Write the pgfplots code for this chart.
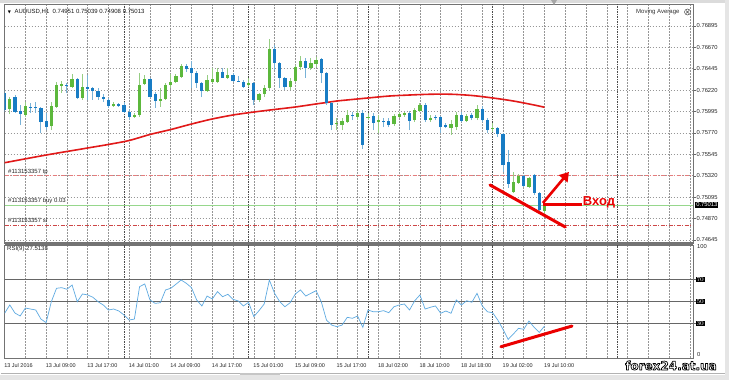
\documentclass[border=0pt]{standalone}
\usepackage{pgfplots}
\usepackage{pgfplotstable}
\pgfplotsset{compat=1.18}
\usetikzlibrary{arrows.meta}
\usepackage{fontspec}
\setmainfont{Liberation Sans}
\newfontfamily\dejavu{DejaVu Sans}
\newfontfamily\dejavub{DejaVu Sans Bold}

\definecolor{bullbody}{RGB}{92,184,60}
\definecolor{bullwick}{RGB}{150,205,130}
\definecolor{bearbody}{RGB}{24,124,196}
\definecolor{bearwick}{RGB}{120,178,215}
\definecolor{mared}{RGB}{225,25,25}
\definecolor{annred}{RGB}{235,0,0}
\definecolor{rsiblue}{RGB}{95,170,225}
\definecolor{gridgray}{RGB}{150,150,150}
\definecolor{tpred}{RGB}{228,125,125}
\definecolor{slred}{RGB}{205,70,70}
\definecolor{buygreen}{RGB}{150,215,140}

\pgfplotstableread{
i o h l c
0 0.76190 0.76222 0.75990 0.76012
2 0.76148 0.76169 0.75980 0.75990
3 0.76001 0.76064 0.75853 0.75969
5 0.76043 0.76085 0.75980 0.76033
6 0.76043 0.76096 0.75980 0.76033
7 0.76033 0.76043 0.75770 0.75885
8 0.75896 0.75980 0.75801 0.75832
12 0.76274 0.76295 0.76190 0.76264
14 0.76337 0.76348 0.76127 0.76138
16 0.76253 0.76379 0.76117 0.76232
17 0.76243 0.76253 0.76117 0.76211
18 0.76211 0.76243 0.76117 0.76148
19 0.76148 0.76180 0.76096 0.76127
20 0.76117 0.76138 0.76033 0.76053
22 0.76075 0.76085 0.76043 0.76053
23 0.76064 0.76096 0.75980 0.75990
24 0.75990 0.76022 0.75906 0.75938
28 0.76337 0.76348 0.76138 0.76148
29 0.76180 0.76201 0.76033 0.76106
35 0.76474 0.76495 0.76411 0.76443
36 0.76453 0.76527 0.76243 0.76400
37 0.76400 0.76421 0.76243 0.76295
38 0.76295 0.76306 0.76148 0.76211
42 0.76411 0.76453 0.76348 0.76348
44 0.76379 0.76400 0.76306 0.76316
45 0.76316 0.76369 0.76306 0.76306
46 0.76306 0.76327 0.76243 0.76253
48 0.76295 0.76306 0.76064 0.76117
52 0.76653 0.76695 0.76432 0.76506
53 0.76506 0.76516 0.76243 0.76348
54 0.76348 0.76358 0.76222 0.76253
58 0.76527 0.76558 0.76348 0.76453
61 0.76548 0.76558 0.76295 0.76400
62 0.76400 0.76411 0.76064 0.76085
63 0.76085 0.76096 0.75801 0.75853
67 0.75959 0.75990 0.75906 0.75948
69 0.75980 0.76012 0.75601 0.75644
71 0.75948 0.75980 0.75801 0.75875
73 0.75896 0.75927 0.75832 0.75885
74 0.75896 0.75927 0.75832 0.75853
78 0.75980 0.76001 0.75801 0.75896
81 0.76064 0.76085 0.75885 0.75906
83 0.75938 0.75959 0.75906 0.75927
84 0.75938 0.75948 0.75770 0.75832
85 0.75853 0.75875 0.75822 0.75832
88 0.75959 0.75990 0.75885 0.75896
90 0.75959 0.75980 0.75906 0.75927
92 0.76022 0.76053 0.75885 0.75906
93 0.75906 0.75927 0.75770 0.75801
95 0.75822 0.75832 0.75727 0.75759
96 0.75759 0.75770 0.75360 0.75433
97 0.75465 0.75591 0.75192 0.75234
100 0.75318 0.75328 0.75202 0.75213
102 0.75328 0.75339 0.75118 0.75139
103 0.75139 0.75149 0.74929 0.74960
}\beardata

\pgfplotstableread{
i o h l c
1 0.76022 0.76148 0.75969 0.76127
4 0.75959 0.76096 0.75938 0.76053
9 0.75843 0.76096 0.75801 0.76053
10 0.76043 0.76306 0.76033 0.76274
11 0.76264 0.76316 0.76190 0.76285
13 0.76253 0.76390 0.76243 0.76337
15 0.76138 0.76390 0.76117 0.76253
21 0.76053 0.76096 0.76043 0.76075
25 0.75938 0.75980 0.75927 0.75959
26 0.75959 0.76400 0.75938 0.76274
27 0.76285 0.76379 0.76274 0.76337
30 0.76106 0.76243 0.76043 0.76127
31 0.76127 0.76295 0.76117 0.76274
32 0.76274 0.76390 0.76243 0.76306
33 0.76306 0.76390 0.76295 0.76369
34 0.76358 0.76495 0.76348 0.76474
39 0.76211 0.76379 0.76201 0.76327
40 0.76306 0.76453 0.76295 0.76337
41 0.76306 0.76453 0.76295 0.76411
43 0.76348 0.76453 0.76337 0.76379
47 0.76274 0.76348 0.76253 0.76295
49 0.76117 0.76190 0.76096 0.76180
50 0.76180 0.76274 0.76148 0.76243
51 0.76243 0.76758 0.76222 0.76653
55 0.76253 0.76348 0.76222 0.76316
56 0.76316 0.76484 0.76306 0.76464
57 0.76464 0.76579 0.76432 0.76527
59 0.76453 0.76558 0.76432 0.76506
60 0.76495 0.76569 0.76464 0.76537
64 0.75864 0.75927 0.75801 0.75875
65 0.75853 0.75927 0.75801 0.75896
66 0.75885 0.76012 0.75875 0.75959
68 0.75938 0.76012 0.75906 0.75980
70 0.75927 0.75980 0.75906 0.75938
72 0.75885 0.75959 0.75770 0.75906
75 0.75864 0.75969 0.75843 0.75948
76 0.75938 0.75990 0.75927 0.75969
77 0.75959 0.75990 0.75938 0.75980
79 0.75906 0.76033 0.75885 0.76012
80 0.76001 0.76085 0.75990 0.76064
82 0.75906 0.75959 0.75885 0.75927
86 0.75822 0.75906 0.75749 0.75864
87 0.75832 0.75990 0.75801 0.75959
89 0.75896 0.75969 0.75885 0.75948
91 0.75927 0.76064 0.75906 0.76022
94 0.75812 0.75875 0.75780 0.75822
98 0.75149 0.75360 0.75139 0.75255
99 0.75244 0.75339 0.75234 0.75318
101 0.75202 0.75308 0.75192 0.75297
104 0.74951 0.75039 0.74908 0.75013
}\bulldata

\pgfplotstableread{
i ma
0 0.75457
8 0.75538
16 0.75612
20 0.75649
24 0.75691
28 0.75754
32 0.75806
36 0.75864
40 0.75917
44 0.75959
48 0.75990
52 0.76017
56 0.76043
60 0.76075
62 0.76090
64 0.76106
66 0.76117
70 0.76138
74 0.76158
78 0.76169
82 0.76177
86 0.76177
90 0.76164
94 0.76138
98 0.76106
102 0.76064
104 0.76040
}\madata

\pgfplotstableread{
i rsi
0 39.2
1 46.8
2 39.4
3 36.7
4 44.0
5 43.1
6 42.2
7 33.9
8 30.6
9 49.8
10 62.1
11 62.7
12 61.2
13 65.1
14 49.8
15 56.9
16 56.0
17 53.9
18 49.8
19 46.8
20 42.2
21 43.1
22 41.3
23 37.6
24 33.0
25 33.9
26 63.6
27 66.1
28 51.4
29 48.3
30 48.9
31 60.6
32 62.1
33 65.8
34 69.7
35 66.7
36 62.7
37 51.4
38 45.9
39 55.0
40 52.3
41 59.0
42 54.4
43 56.6
44 52.0
45 50.5
46 45.9
47 49.3
48 36.1
49 41.6
50 47.7
51 69.7
52 57.5
53 49.8
54 45.2
55 48.9
56 56.9
57 60.6
58 55.0
59 57.5
60 59.9
61 49.8
62 33.0
63 28.4
64 26.9
65 28.4
66 35.5
67 34.6
68 36.7
69 26.3
70 42.2
71 40.6
72 40.6
73 41.6
74 39.7
75 45.2
76 46.8
77 47.7
78 42.2
79 50.7
80 56.0
81 43.1
82 44.7
83 45.9
84 39.2
85 41.3
86 39.2
87 51.4
88 46.8
89 50.7
90 49.3
91 57.5
92 46.0
93 40.6
94 39.7
95 33.0
96 24.5
97 15.3
98 20.2
99 25.4
100 24.5
101 32.1
102 26.3
103 21.7
104 27.5
}\rsidata

\pgfplotsset{
  mtgrid/.style={
    xmin=0, xmax=132.6,
    scale only axis, width=688.4pt,
    axis line style={black!55, line width=0.6pt},
    xtick={0,4,...,132}, xtick style={draw=none},
    xmajorgrids,
    major grid style={gridgray, line width=0.55pt, dash pattern=on 1.5pt off 1.5pt},
    extra x ticks={23,47,70,94,118}, extra x tick labels={},
    extra x tick style={grid=major, major grid style={black!70, line width=0.6pt, dash pattern=on 1.5pt off 1pt}},
    ytick pos=right, tick align=outside, major tick length=2.5pt,
    ytick style={black!60, line width=0.5pt},
    yticklabel style={font=\fontsize{5.8}{6}\selectfont, text=black!85, inner sep=1pt},
  },
  wick/.style={draw=none, mark=none, forget plot,
    error bars/.cd, y dir=plus, y explicit, error mark=none,
    error bar style={draw=#1, line width=0.9pt}},
  body/.style={draw=none, mark=none, forget plot,
    error bars/.cd, y dir=plus, y explicit, error mark=none,
    error bar style={draw=#1, line width=3.2pt}},
}

\begin{document}
\begin{tikzpicture}[x=1pt,y=1pt]
\useasboundingbox (0,0) rectangle (729,380);
\fill[white] (0,0) rectangle (729,380);
\fill[gray!28] (0,377) rectangle (729,380);
\fill[gray!20] (0,0) rectangle (729,5);
\fill[gray!20] (725,0) rectangle (729,380);
\draw[gray!60, line width=0.6pt] (1,6.5) -- (725,6.5);
\fill[gray!45] (240,5) rectangle (280,6.5);

% ---------------- main price pane ----------------
\begin{axis}[mtgrid,
  at={(4.6pt,137pt)}, anchor=south west, height=239pt,
  ymin=0.74613, ymax=0.77126,
  xticklabels={},
  ymajorgrids,
  ytick={0.74645,0.74870,0.75095,0.75320,0.75545,0.75770,0.75995,0.76220,0.76445,0.76670,0.76895},
  yticklabels={0.74645,0.74870,0.75095,0.75320,0.75545,0.75770,0.75995,0.76220,0.76445,0.76670,0.76895},
]
% order lines
\addplot[tpred, line width=0.7pt, dash pattern=on 4pt off 1.5pt on 1pt off 1.5pt, forget plot] coordinates {(0,0.75322) (132.6,0.75322)};
\addplot[slred, line width=0.7pt, dash pattern=on 4pt off 1.5pt on 1pt off 1.5pt, forget plot] coordinates {(0,0.74800) (132.6,0.74800)};
\addplot[buygreen, line width=0.8pt, forget plot] coordinates {(0,0.75013) (132.6,0.75013)};
% moving average
\addplot[mared, line width=1.6pt, smooth, forget plot] table[x=i, y=ma] \madata;
% wicks
\addplot[wick=bearwick] table[x=i, y=l, y error expr=\thisrow{h}-\thisrow{l}] \beardata;
\addplot[wick=bullwick] table[x=i, y=l, y error expr=\thisrow{h}-\thisrow{l}] \bulldata;
% bodies
\addplot[body=bearbody] table[x=i, y=c, y error expr=\thisrow{o}-\thisrow{c}] \beardata;
\addplot[body=bullbody] table[x=i, y=o, y error expr=\thisrow{c}-\thisrow{o}] \bulldata;
% annotations
\addplot[annred, line width=3pt, line cap=round, forget plot] coordinates {(93.5,0.75223) (108,0.74781)};
\addplot[annred, line width=3pt, forget plot] coordinates {(103.7,0.75013) (111.2,0.75013)};
\addplot[annred, line width=2.6pt, -{Triangle[length=9pt,width=11pt]}, forget plot] coordinates {(103.7,0.75034) (108.7,0.75360)};
\end{axis}

% ---------------- RSI pane ----------------
\begin{axis}[mtgrid,
  at={(4.6pt,22pt)}, anchor=south west, height=113pt,
  ymin=-1.8, ymax=101.8,
  xticklabels={13 Jul 2016,,13 Jul 09:00,,13 Jul 17:00,,14 Jul 01:00,,14 Jul 09:00,,14 Jul 17:00,,15 Jul 01:00,,15 Jul 09:00,,15 Jul 17:00,,18 Jul 02:00,,18 Jul 10:00,,18 Jul 18:00,,19 Jul 02:00,,19 Jul 10:00,,,,,,,,,,},
  xticklabel style={anchor=north west, font=\fontsize{5.5}{6}\selectfont, text=black!85, inner sep=0pt, yshift=-2.5pt, xshift=-0.5pt},
  ytick={30,50,70},
  yticklabel style={fill=black, text=white, inner sep=0.8pt},
]
\addplot[black!60, line width=0.6pt, forget plot] coordinates {(0,70) (132.6,70)};
\addplot[black!60, line width=0.6pt, forget plot] coordinates {(0,50) (132.6,50)};
\addplot[black!60, line width=0.6pt, forget plot] coordinates {(0,30) (132.6,30)};
\addplot[rsiblue, line width=0.7pt, forget plot] table[x=i, y=rsi] \rsidata;
\addplot[annred, line width=3pt, line cap=round, forget plot] coordinates {(95.6,8.5) (109.3,27.5)};
\end{axis}

% pane separator
\fill[black!55] (4.6,135) rectangle (693,138.2);

% texts
\node[font=\dejavu\fontsize{4}{5}\selectfont, inner sep=0pt] at (9.5,368) {▼};
\node[anchor=west, font=\fontsize{6}{7}\selectfont, inner sep=0pt, text=black!90] at (14.5,368) {AUDUSD,H1\ \ 0.74951 0.75039 0.74908 0.75013};
\node[anchor=west, font=\fontsize{6}{7}\selectfont, inner sep=0pt, text=black!80] at (636,368) {Moving Average};
\draw[black!70, line width=0.5pt] (687.5,368) circle (3);
\draw[black!70, line width=0.5pt] (686,366.5) -- (689,369.5) (686,369.5) -- (689,366.5);
\fill[gray!70] (551,380) -- (557,380) -- (554,375) -- cycle;

\node[anchor=west, font=\fontsize{6}{7}\selectfont, inner sep=0pt, text=black!85] at (8,208) {\#113153357 tp};
\node[anchor=west, font=\fontsize{6}{7}\selectfont, inner sep=0pt, text=black!85] at (8,179) {\#113153357 buy 0.03};
\node[anchor=west, font=\fontsize{6}{7}\selectfont, inner sep=0pt, text=black!85] at (8,159.5) {\#113153357 sl};
\node[anchor=west, font=\fontsize{6}{7}\selectfont, inner sep=0pt, text=black!85] at (7,131) {RSI(9) 27.5138};

\node[anchor=west, fill=black, text=white, font=\fontsize{5.8}{6}\selectfont, inner sep=1pt] at (695.2,175) {0.75013};
\node[anchor=west, font=\fontsize{5.8}{6}\selectfont, inner sep=0pt, text=black!85] at (697,133) {100};
\node[anchor=west, font=\fontsize{5.8}{6}\selectfont, inner sep=0pt, text=black!85] at (697,25) {0};

\node[font=\bfseries\fontsize{13}{14}\selectfont, text=annred, inner sep=0pt] at (599,178) {Вход};

% watermark: white text with black outline (fill + stroke text rendering mode)
\node[font=\dejavub\fontsize{12}{13}\selectfont, inner sep=0pt] at (671,14.5)
  {\color{white}\special{pdf:literal direct 0 0 0 RG 0.7 w 1 j 2 Tr}forex24.at.ua\special{pdf:literal direct 0 Tr}};
\end{tikzpicture}
\end{document}
